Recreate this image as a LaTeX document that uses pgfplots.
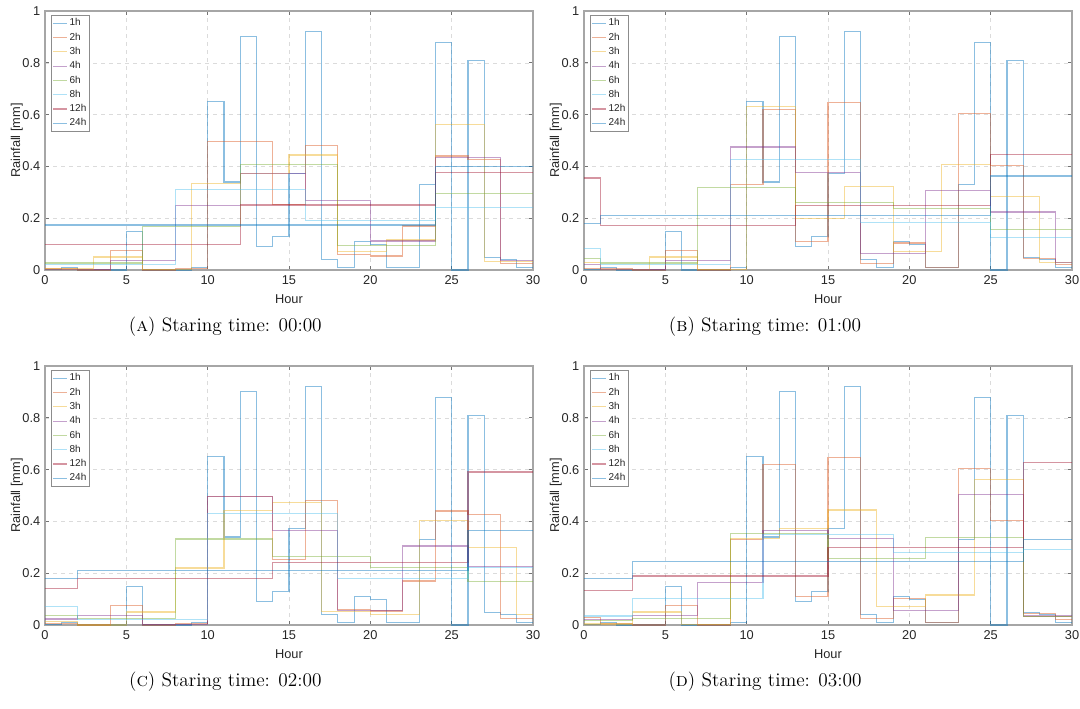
\documentclass[border=0pt]{standalone}
\usepackage{fontspec}
\setsansfont{Liberation Sans}
\usepackage{pgfplots}
\usepackage{pgfplotstable}
\pgfplotsset{compat=1.18}
\definecolor{c1}{RGB}{0,114,189}
\definecolor{c2}{RGB}{217,83,25}
\definecolor{c3}{RGB}{237,177,32}
\definecolor{c4}{RGB}{126,47,142}
\definecolor{c5}{RGB}{119,172,48}
\definecolor{c6}{RGB}{77,190,238}
\definecolor{c7}{RGB}{162,20,47}
\definecolor{tk}{RGB}{38,38,38}
\pgfplotstableread{
x y
0 0.002
1 0.010
2 0
3 0
4 0
5 0.150
6 0
7 0
8 0
9 0.010
10 0.650
11 0.340
12 0.900
13 0.090
14 0.130
15 0.373
16 0.920
17 0.039
18 0.009
19 0.109
20 0.099
21 0.009
22 0.009
23 0.330
24 0.879
25 0
26 0.808
27 0.047
28 0.039
29 0.009
30 0.009
}\hourly
\pgfplotsset{
  panel/.style={
    scale only axis, width=366pt, height=194.25pt,
    anchor=south west,
    xmin=0, xmax=30, ymin=0, ymax=1,
    xtick={0,5,10,15,20,25,30}, ytick={0,0.2,0.4,0.6,0.8,1},
    /pgf/number format/assume math mode=true,
    xticklabel={\pgfmathprintnumber{\tick}},
    yticklabel={\pgfmathprintnumber{\tick}},
    clip=false,
    axis line style={draw=black!35, line width=0.8pt},
    tick align=inside, tick pos=both,
    major tick length=3.2pt,
    major tick style={draw=black!55, line width=0.5pt},
    grid=major,
    major grid style={dashed, draw=black!14, line width=0.4pt},
    tick label style={font=\fontsize{9.6}{11}\sffamily, text=tk},
    xticklabel style={yshift=-1pt},
    label style={font=\fontsize{9.6}{11}\sffamily, text=tk},
    xlabel={Hour}, ylabel={Rainfall [mm]},
    xlabel style={yshift=0pt},
    ylabel style={yshift=-7pt},
    every axis plot/.append style={const plot, line width=0.85pt, draw opacity=0.45, mark=none},
    legend cell align=left,
    legend image code/.code={\draw[#1] (0pt,0pt) -- (10.5pt,0pt);},
    legend style={at={(0.012,0.985)}, anchor=north west, draw=black!45, line width=0.5pt,
      font=\fontsize{7.5}{8.5}\sffamily, text=tk, inner sep=1.2pt, row sep=1.2pt,
      nodes={inner sep=1.3pt}},
  }
}
\begin{document}
\begin{tikzpicture}
\useasboundingbox (0,0) rectangle (810pt,531pt);
% ---------------- (A) ----------------
\begin{axis}[panel, at={(33.75pt,328.5pt)}]
\addplot[c1] table {\hourly};
\addplot[c2] coordinates {(0,0.006) (2,0) (4,0.075) (6,0) (8,0.005) (10,0.495) (12,0.495) (14,0.252) (16,0.480) (18,0.059) (20,0.054) (22,0.170) (24,0.440) (26,0.428) (28,0.024) (30,0.024)};
\addplot[c3] coordinates {(0,0.004) (3,0.050) (6,0.003) (9,0.333) (12,0.373) (15,0.444) (18,0.072) (21,0.116) (24,0.562) (27,0.032) (30,0.032)};
\addplot[c4] coordinates {(0,0.003) (4,0.0375) (8,0.250) (12,0.373) (16,0.269) (20,0.112) (24,0.434) (28,0.038) (30,0.038)};
\addplot[c5] coordinates {(0,0.027) (6,0.167) (12,0.409) (18,0.094) (24,0.297) (30,0.297)};
\addplot[c6] coordinates {(0,0.020) (8,0.312) (16,0.190) (24,0.240) (30,0.240)};
\addplot[c7] coordinates {(0,0.097) (12,0.251) (24,0.376) (30,0.376)};
\addplot[c1] coordinates {(0,0.174) (24,0.400) (30,0.400)};
\legend{1h,2h,3h,4h,6h,8h,12h,24h}
\end{axis}
% ---------------- (B) ----------------
\begin{axis}[panel, at={(438pt,328.5pt)}]
\addplot[c1] table {\hourly};
\addplot[c2] coordinates {(0,0.005) (1,0.005) (3,0) (5,0.075) (7,0) (9,0.330) (11,0.620) (13,0.110) (15,0.647) (17,0.024) (19,0.104) (21,0.009) (23,0.605) (25,0.404) (27,0.043) (29,0.020) (30,0.020)};
\addplot[c3] coordinates {(0,0.030) (1,0.003) (4,0.050) (7,0.003) (10,0.630) (13,0.198) (16,0.323) (19,0.072) (22,0.406) (25,0.285) (28,0.030) (30,0.030)};
\addplot[c4] coordinates {(0,0.022) (1,0.0025) (5,0.0375) (9,0.475) (13,0.378) (17,0.064) (21,0.307) (25,0.224) (29,0.028) (30,0.028)};
\addplot[c5] coordinates {(0,0.044) (1,0.027) (7,0.317) (13,0.260) (19,0.239) (25,0.157) (30,0.157)};
\addplot[c6] coordinates {(0,0.084) (1,0.020) (9,0.427) (17,0.185) (25,0.126) (30,0.126)};
\addplot[c7] coordinates {(0,0.355) (1,0.172) (13,0.250) (25,0.445) (30,0.445)};
\addplot[c1] coordinates {(0,0.179) (1,0.211) (25,0.363) (30,0.363)};
\legend{1h,2h,3h,4h,6h,8h,12h,24h}
\end{axis}
% ---------------- (C) ----------------
\begin{axis}[panel, at={(33.75pt,62.25pt)}]
\addplot[c1] table {\hourly};
\addplot[c2] coordinates {(0,0.006) (2,0) (4,0.075) (6,0) (8,0.005) (10,0.495) (12,0.495) (14,0.252) (16,0.480) (18,0.059) (20,0.054) (22,0.170) (24,0.440) (26,0.428) (28,0.024) (30,0.024)};
\addplot[c3] coordinates {(0,0.013) (2,0) (5,0.050) (8,0.220) (11,0.443) (14,0.474) (17,0.052) (20,0.039) (23,0.403) (26,0.298) (29,0.041) (30,0.041)};
\addplot[c4] coordinates {(0,0.023) (2,0.0375) (6,0.0025) (10,0.495) (14,0.366) (18,0.057) (22,0.305) (26,0.226) (30,0.226)};
\addplot[c5] coordinates {(0,0.036) (2,0.025) (8,0.332) (14,0.263) (20,0.221) (26,0.169) (30,0.169)};
\addplot[c6] coordinates {(0,0.070) (2,0.020) (10,0.430) (18,0.181) (26,0.222) (30,0.222)};
\addplot[c7] coordinates {(0,0.141) (2,0.178) (14,0.242) (26,0.591) (30,0.591)};
\addplot[c1] coordinates {(0,0.178) (2,0.210) (26,0.364) (30,0.364)};
\legend{1h,2h,3h,4h,6h,8h,12h,24h}
\end{axis}
% ---------------- (D) ----------------
\begin{axis}[panel, at={(438pt,62.25pt)}]
\addplot[c1] table {\hourly};
\addplot[c2] coordinates {(0,0.030) (1,0.005) (3,0) (5,0.075) (7,0) (9,0.330) (11,0.620) (13,0.110) (15,0.647) (17,0.024) (19,0.104) (21,0.009) (23,0.605) (25,0.404) (27,0.043) (29,0.020) (30,0.020)};
\addplot[c3] coordinates {(0,0.004) (3,0.050) (6,0.003) (9,0.333) (12,0.373) (15,0.444) (18,0.072) (21,0.116) (24,0.562) (27,0.032) (30,0.032)};
\addplot[c4] coordinates {(0,0.020) (3,0.0375) (7,0.165) (11,0.365) (15,0.335) (19,0.057) (23,0.504) (27,0.035) (30,0.035)};
\addplot[c5] coordinates {(0,0.017) (3,0.025) (9,0.353) (15,0.258) (21,0.339) (27,0.033) (30,0.033)};
\addplot[c6] coordinates {(0,0.035) (3,0.101) (11,0.350) (19,0.280) (27,0.291) (30,0.291)};
\addplot[c7] coordinates {(0,0.133) (3,0.189) (15,0.299) (27,0.627) (30,0.627)};
\addplot[c1] coordinates {(0,0.178) (3,0.244) (27,0.331) (30,0.331)};
\legend{1h,2h,3h,4h,6h,8h,12h,24h}
\end{axis}
% ---------------- captions ----------------
\node[font=\fontsize{14.5}{16}\selectfont] at (169pt,285.75pt) {(\textsc{a}) Staring time: 00:00};
\node[font=\fontsize{14.5}{16}\selectfont] at (573.75pt,285.75pt) {(\textsc{b}) Staring time: 01:00};
\node[font=\fontsize{14.5}{16}\selectfont] at (169pt,19.5pt) {(\textsc{c}) Staring time: 02:00};
\node[font=\fontsize{14.5}{16}\selectfont] at (573.75pt,19.5pt) {(\textsc{d}) Staring time: 03:00};
\end{tikzpicture}
\end{document}
